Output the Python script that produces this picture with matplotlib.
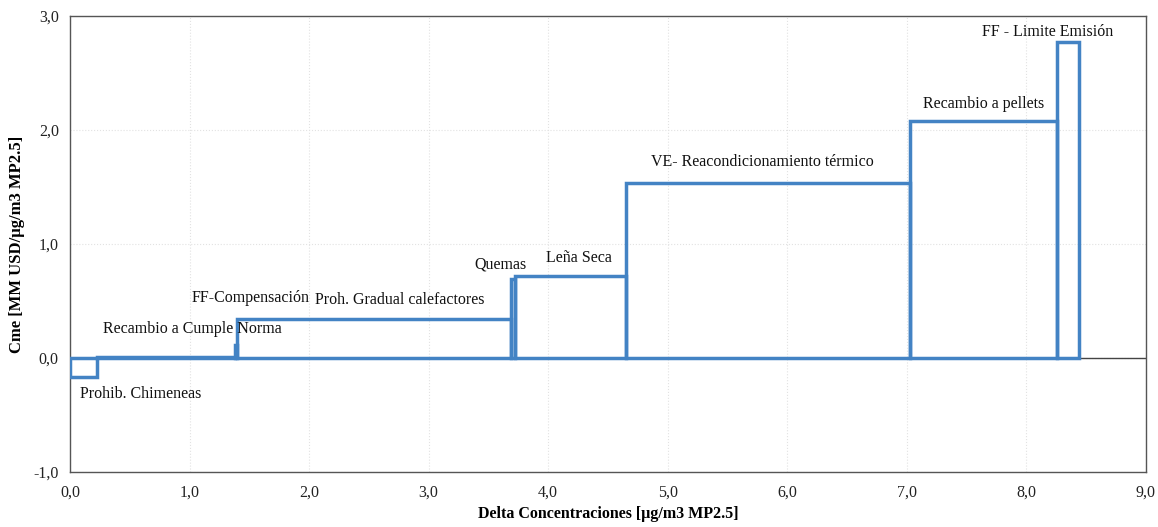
import matplotlib
matplotlib.use("Agg")
import matplotlib.pyplot as plt
import numpy as np
from matplotlib.ticker import FuncFormatter, MultipleLocator

# Data
measures = ["Prohib. Chimeneas", "Recambio a Cumple Norma", "FF-Compensación",
            "Proh. Gradual calefactores", "Quemas", "Leña Seca",
            "VE- Reacondicionamiento térmico", "Recambio a pellets", "FF - Limite Emisión"]
delta_conc = [0.226, 1.154, 0.016, 2.294, 0.03, 0.93, 2.38, 1.23, 0.18]
cost = [-0.17, 0.01, 0.11, 0.34, 0.69, 0.72, 1.535, 2.08, 2.77]

# label placements (x, y, ha)
label_pos = [(0.084, -0.32, "left"), (1.02, 0.25, "center"), (1.51, 0.53, "center"),
             (2.76, 0.51, "center"), (3.60, 0.82, "center"), (4.26, 0.88, "center"),
             (5.79, 1.72, "center"), (7.64, 2.23, "center"), (8.18, 2.86, "center")]

plt.rcParams['font.family'] = ['Liberation Serif', 'DejaVu Serif']

fig = plt.figure(figsize=(11.58, 5.27), dpi=100)
ax = fig.add_axes([0.0604, 0.1044, 0.9292, 0.8652])

starts = np.concatenate([[0], np.cumsum(delta_conc)[:-1]])
ax.bar(starts, cost, width=delta_conc, align='edge', fill=False,
       edgecolor='#4383c4', linewidth=2.5, zorder=3)

for name, (lx, ly, ha) in zip(measures, label_pos):
    ax.text(lx, ly, name, ha=ha, va='center', fontsize=11.5, color='#111111', zorder=4)

ax.axhline(0, color='#444444', linewidth=1.0, zorder=2)
ax.set_xlim(0, 9)
ax.set_ylim(-1, 3)
ax.xaxis.set_major_locator(MultipleLocator(1))
ax.yaxis.set_major_locator(MultipleLocator(1))
fmt = FuncFormatter(lambda v, p: f"{v:.1f}".replace(".", ","))
ax.xaxis.set_major_formatter(fmt)
ax.yaxis.set_major_formatter(fmt)
ax.tick_params(axis='both', labelsize=11.5, length=0, colors='#222222')
ax.tick_params(axis='x', pad=9)
ax.tick_params(axis='y', pad=8)
ax.grid(True, color='#e2e2e2', linestyle=':', linewidth=0.8, zorder=0)
for s in ax.spines.values():
    s.set_color('#555555')
    s.set_linewidth(1.0)

ax.set_xlabel("Delta Concentraciones [µg/m3 MP2.5]", fontsize=11.5, fontweight='bold', labelpad=4)
ax.set_ylabel("Cme [MM USD/µg/m3 MP2.5]", fontsize=12, fontweight='bold', labelpad=6)

fig.savefig("out.png", dpi=100)
